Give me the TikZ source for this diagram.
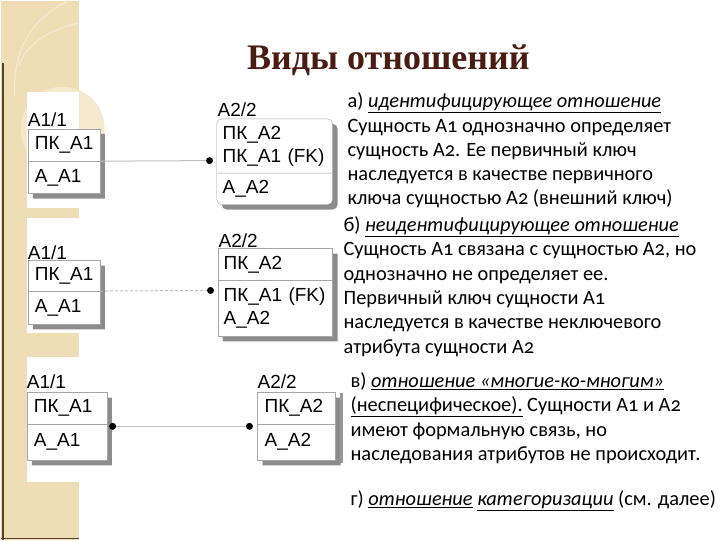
\documentclass[tikz,border=0pt]{standalone}
\usepackage{fontspec}
\setmainfont{Carlito}[Numbers=OldStyle]
\newfontfamily\arialf{Liberation Sans}
\newfontfamily\headf{Liberation Serif}
\usetikzlibrary{positioning, shapes.multipart, shadows}
\definecolor{beige}{HTML}{EEDDB5}
\definecolor{beigelt}{HTML}{F4E8CE}
\definecolor{brownline}{HTML}{5A4020}
\definecolor{headbrown}{HTML}{4A1C12}
\newcommand{\fld}[2]{\parbox[c][#1pt][c]{\linewidth}{#2}}
\newcommand{\ul}[1]{\underline{#1}}

\begin{document}
\begin{tikzpicture}[x=1pt, y=-1pt,
    ent/.style={rectangle split, rectangle split parts=2, draw=black!35,
                fill=white, inner xsep=7pt, inner ysep=0pt, align=left,
                font=\arialf\fontsize{19}{23}\selectfont,
                drop shadow={shadow xshift=5pt, shadow yshift=-5pt,
                             fill=black!45, opacity=1}},
    lbl/.style={inner sep=0pt, font=\arialf\fontsize{19}{23}\selectfont},
    dot/.style={circle, fill=black, inner sep=0pt, minimum size=7pt},
    lnk/.style={draw=black!25, line width=1pt},
    txt/.style={inner sep=0pt, align=left,
                font=\fontsize{20.4}{24.3}\selectfont}
  ]
  % page and left strip
  \fill[white] (0,0) rectangle (720,540);
  \fill[beige] (0,0) rectangle (78,540);
  \fill[beigelt] (62,128) circle (42);
  \draw[beigelt, line width=1.5pt] (68,0) .. controls (30,18) and (12,50) .. (14,95);
  \draw[beigelt, line width=1.5pt] (78,22) .. controls (45,30) and (25,45) .. (18,65);
  \fill[white] (26,91) rectangle (78,207);
  \fill[white] (26,217) rectangle (78,333);
  \fill[white] (26,357) rectangle (78,482);
  \draw[brownline, line width=1.5pt] (2.5,62) -- (2.5,540);
  \draw[brownline, line width=1.5pt] (0,538.5) -- (78,538.5);

  \node[inner sep=0pt, font=\headf\bfseries\fontsize{36}{40}\selectfont,
        text=headbrown, anchor=base] (title) at (388,69) {Виды отношений};

  % a) identifying
  \node[ent, text width=58pt, anchor=north west] (e1) at (27,128)
    {\fld{32}{ПК\_А1}\nodepart{two}\fld{32}{А\_А1}};
  \node[ent, rounded corners=5pt, inner xsep=6pt, text width=104pt, anchor=north west] (e2) at (216,118)
    {\fld{54}{ПК\_А2\\ПК\_А1 (FK)}\nodepart{two}\fld{31}{А\_А2}};
  \node[lbl, above right=2pt and 0pt of e1.north west] (l1) {A1/1};
  \node[lbl, above right=2pt and 1pt of e2.north west] (l2) {A2/2};
  \node[dot] (d1) at (209,160) {};
  \draw[lnk] (e1.text split east) -- (d1);

  % b) non-identifying
  \node[ent, text width=58pt, anchor=north west] (e3) at (27,260)
    {\fld{30}{ПК\_А1}\nodepart{two}\fld{33}{А\_А1}};
  \node[ent, inner xsep=6pt, text width=103pt, anchor=north west] (e4) at (217,248)
    {\fld{31}{ПК\_А2}\nodepart{two}\fld{56}{ПК\_А1 (FK)\\А\_А2}};
  \node[lbl, above right=1pt and 0pt of e3.north west] (l3) {A1/1};
  \node[lbl, above right=1pt and 1pt of e4.north west] (l4) {A2/2};
  \node[dot] (d2) at (210,290) {};
  \draw[lnk, dash pattern=on 3pt off 2pt] (e3.text split east) -- (d2);

  % c) many-to-many
  \node[ent, text width=66pt, anchor=north west] (e5) at (26,392)
    {\fld{31}{ПК\_А1}\nodepart{two}\fld{36}{А\_А1}};
  \node[ent, text width=64pt, anchor=north west] (e6) at (257,392)
    {\fld{31}{ПК\_А2}\nodepart{two}\fld{36}{А\_А2}};
  \node[lbl, above right=3pt and 0pt of e5.north west] (l5) {A1/1};
  \node[lbl, above right=3pt and 0pt of e6.north west] (l6) {A2/2};
  \node[dot] (d3) at (112,426) {};
  \node[dot] (d4) at (249,426) {};
  \draw[lnk] (d3) -- (d4);
  \fill[black!40] (340,393) rectangle (343,463);

  % descriptions
  \node[txt, anchor=north west] (ta) at (347,92)
    {а) \textit{\ul{идентифицирующее отношение}}\\
     Сущность А1 однозначно определяет\\
     сущность А2. Ее первичный ключ\\
     наследуется в качестве первичного\\
     ключа сущностью А2 (внешний ключ)};
  \node[txt, anchor=north west] (tb) at (343,216)
    {б) \textit{\ul{неидентифицирующее отношение}}\\
     Сущность А1 связана с сущностью А2, но\\
     однозначно не определяет ее.\\
     Первичный ключ сущности А1\\
     наследуется в качестве неключевого\\
     атрибута сущности А2};
  \node[txt, anchor=north west] (tc) at (350,372)
    {в) \textit{\ul{отношение «многие-ко-многим»}}\\
     \ul{(неспецифическое).} Сущности А1 и А2\\
     имеют формальную связь, но\\
     наследования атрибутов не происходит.};
  \node[txt, anchor=north west] (td) at (350,490)
    {г) \textit{\ul{отношение}} \textit{\ul{категоризации}} (см. далее)};
\end{tikzpicture}
\end{document}
